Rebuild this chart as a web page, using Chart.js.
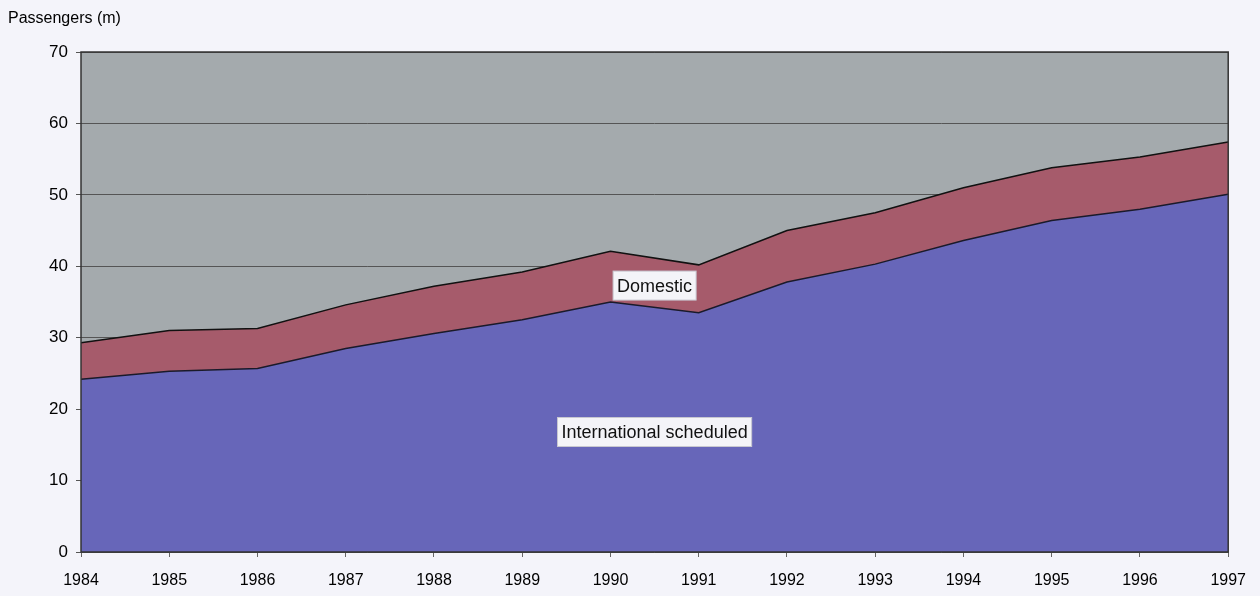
<!DOCTYPE html>
<html>
<head>
<meta charset="utf-8">
<script src="https://cdn.jsdelivr.net/npm/chart.js@4/dist/chart.umd.min.js"></script>
<style>
  body { margin: 0; background: #f4f4fa; }
  #wrap { width: 1260px; height: 596px; }
</style>
</head>
<body>
<div id="wrap"><canvas id="paxChart" width="1260" height="596"></canvas></div>
<script>
// Dati (milioni di passeggeri)
const years = ['1984', '1985', '1986', '1987', '1988', '1989', '1990', '1991', '1992', '1993', '1994', '1995', '1996', '1997'];
const international = [24.2, 25.3, 25.7, 28.5, 30.6, 32.5, 35.0, 33.5, 37.8, 40.3, 43.6, 46.4, 48.0, 50.1];
const domestic = [5.1, 5.7, 5.6, 6.1, 6.6, 6.7, 7.1, 6.7, 7.2, 7.2, 7.4, 7.4, 7.3, 7.3];
const yTicks = [0, 10, 20, 30, 40, 50, 60, 70];

// Etichette dentro le aree: testo, posizione in valori (indice anno, passeggeri)
const areaLabels = [
  { text: 'Domestic', x: 6.5, y: 37.3 },
  { text: 'International scheduled', x: 6.5, y: 16.8 }
];

const fontFamily = '"Liberation Sans", Arial, sans-serif';

// Sfondo grigio dell'area del grafico
const plotBackground = {
  id: 'plotBackground',
  beforeDraw(chart) {
    const { ctx, chartArea: a } = chart;
    ctx.save();
    ctx.fillStyle = '#a4aaad';
    ctx.fillRect(a.left, a.top, a.right - a.left, a.bottom - a.top);
    ctx.restore();
  }
};

// Titolo asse, cornice e box delle etichette
const extras = {
  id: 'extras',
  afterDraw(chart) {
    const { ctx, chartArea: a, scales } = chart;
    ctx.save();
    // cornice
    ctx.strokeStyle = '#333';
    ctx.lineWidth = 1.5;
    ctx.strokeRect(a.left, a.top, a.right - a.left, a.bottom - a.top);
    // titolo asse y
    ctx.fillStyle = '#000';
    ctx.font = '16px ' + fontFamily;
    ctx.textAlign = 'left';
    ctx.textBaseline = 'middle';
    ctx.fillText('Passengers (m)', 8, 19);
    // etichette
    ctx.font = '18px ' + fontFamily;
    ctx.textAlign = 'center';
    areaLabels.forEach(l => {
      const px = scales.x.getPixelForValue(l.x);
      const py = scales.y.getPixelForValue(l.y);
      const w = ctx.measureText(l.text).width + 8;
      const h = 29;
      ctx.fillStyle = '#f4f4f8';
      ctx.fillRect(px - w / 2, py - h / 2, w, h);
      ctx.strokeStyle = '#c8c8d0';
      ctx.lineWidth = 1;
      ctx.strokeRect(px - w / 2, py - h / 2, w, h);
      ctx.fillStyle = '#111';
      ctx.fillText(l.text, px, py + 1);
    });
    ctx.restore();
  }
};

const ctx = document.getElementById('paxChart').getContext('2d');
const paxChart = new Chart(ctx, {
  type: 'line',
  data: {
    labels: years,
    datasets: [
      {
        label: 'International scheduled',
        data: international,
        backgroundColor: '#6766b9',
        borderColor: '#1a1a2a',
        borderWidth: 1.5,
        fill: 'origin',
        pointRadius: 0,
        tension: 0
      },
      {
        label: 'Domestic',
        data: domestic,
        backgroundColor: '#a65b6b',
        borderColor: '#111',
        borderWidth: 1.5,
        fill: '-1',
        pointRadius: 0,
        tension: 0
      }
    ]
  },
  options: {
    responsive: false,
    animation: false,
    layout: { padding: { left: 0, top: 52, right: 0, bottom: 0 } },
    plugins: {
      legend: { display: false },
      tooltip: { enabled: false }
    },
    scales: {
      x: {
        offset: false,
        grid: { display: true, drawOnChartArea: false, tickLength: 5, color: '#666' },
        border: { display: false },
        ticks: { color: '#000', font: { family: fontFamily, size: 16 }, padding: 14, maxRotation: 0, autoSkip: false },
        afterFit(scale) { scale.height = 44; }
      },
      y: {
        stacked: true,
        min: 0,
        max: 70,
        afterBuildTicks(scale) { scale.ticks = yTicks.map(v => ({ value: v })); },
        grid: { color: '#555', lineWidth: 1, tickLength: 5 },
        border: { display: false },
        ticks: { color: '#000', font: { family: fontFamily, size: 17 }, padding: 8 },
        afterFit(scale) { scale.width = 81; }
      }
    }
  },
  plugins: [plotBackground, extras]
});
</script>
</body>
</html>
